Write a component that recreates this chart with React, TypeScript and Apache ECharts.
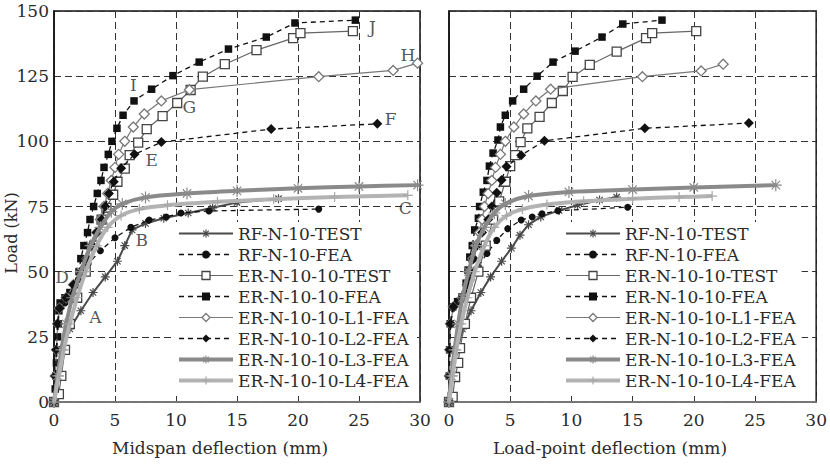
import React, { useEffect, useRef } from 'react';
import * as echarts from 'echarts';

// ---- tick values ----
const xTicks = [0, 5, 10, 15, 20, 25, 30];
const yTicks = [0, 25, 50, 75, 100, 125, 150];

const seriesNames = [
  'RF-N-10-TEST',
  'RF-N-10-FEA',
  'ER-N-10-10-TEST',
  'ER-N-10-10-FEA',
  'ER-N-10-10-L1-FEA',
  'ER-N-10-10-L2-FEA',
  'ER-N-10-10-L3-FEA',
  'ER-N-10-10-L4-FEA',
];

// ---- Midspan deflection (mm) vs load (kN) ----
const rfTestMid = [[0,0],[0.3,10],[0.7,20],[1.3,28],[2.2,35],[3.2,42],[4.2,48],[5.2,54],[5.8,60],[6.4,66],[7.5,68.5],[9,70.5],[11,72.5],[13,74.5],[15,76.5],[18.4,78]];
const rfFeaMid = [[0,0],[0.1,10],[0.2,20],[0.3,30],[0.4,36],[0.9,38],[1.4,42],[2.0,47],[2.8,53],[3.8,58],[5.0,63],[6.3,67],[7.8,69.8],[9.2,71],[10.4,72.5],[12.7,73.3],[21.7,74]];
const erTestMid = [[0,0],[0.4,3],[0.6,10],[0.9,20],[1.3,30],[1.9,40],[2.6,50],[3.3,60],[3.9,70],[4.3,74.5],[4.85,79.5],[5.2,84.5],[5.8,89.5],[6.2,94.7],[6.9,99.5],[7.6,104.7],[8.9,109.7],[10.1,114.7],[11.2,119.7],[12.2,124.8],[14,129.6],[16.6,135],[19.6,139.6],[20.2,141.5],[24.5,142.3]];
const erFeaMid = [[0,0],[0.1,5],[0.15,10],[0.2,15],[0.25,20],[0.3,25],[0.35,30],[0.4,35],[0.5,38],[0.9,40],[1.3,42],[1.7,45],[2.05,50],[2.2,55],[2.45,60],[2.75,65],[2.95,70],[3.25,75],[3.55,80],[3.85,85],[4.1,90],[4.45,95],[4.75,100],[5.16,105],[5.66,110],[6.56,115.5],[8.0,120],[9.75,125.2],[11.9,130.4],[14.3,135.4],[17.4,140],[19.75,145.4],[24.7,146.5]];
const l1FeaMid = [[0,0],[0.1,10],[0.2,20],[0.3,30],[0.45,36],[1.0,40],[1.6,45],[2.2,50],[2.7,55],[3.1,60],[3.5,65],[3.8,70],[4.1,75],[4.4,80],[4.7,85],[5.0,90],[5.3,95],[5.8,100],[6.5,105.5],[7.4,110.5],[8.8,115.5],[11.1,119.8],[21.7,124.8],[27.8,127.2],[29.8,130]];
const l2FeaMid = [[0,0],[0.1,10],[0.2,20],[0.3,30],[0.45,36],[1.0,40],[1.6,45],[2.2,50],[2.7,55],[3.1,60],[3.5,65],[3.9,70],[4.2,75],[4.5,80],[4.9,84.5],[5.5,89.7],[6.6,95],[8.8,99.7],[17.8,104.7],[26.5,106.7]];
const l3FeaMid = [[0,0],[0.3,10],[0.6,20],[1.0,30],[1.5,40],[2.2,50],[3.0,60],[3.8,67],[4.7,73],[5.6,76],[7.5,78.5],[10.9,80],[15,81],[20,82],[25,82.7],[29.8,83.2]];
const l4FeaMid = [[0,0],[0.4,10],[0.8,20],[1.3,30],[1.9,40],[2.6,50],[3.5,60],[4.4,67],[5.5,71.5],[7,74],[9.3,75.5],[13.4,76.8],[18,77.8],[23,78.6],[29,79.3]];

// ---- Load-point deflection (mm) vs load (kN) ----
const rfTestLp = [[0,0],[0.3,10],[0.7,20],[1.1,28],[1.8,35],[2.6,42],[3.4,48],[4.3,54],[5.1,59],[5.8,64],[6.5,68],[7.5,71],[9,73.5],[10.5,75.5],[12.3,77.5],[13.7,78.6]];
const rfFeaLp = [[0,0],[0.03,10],[0.06,20],[0.12,30],[0.35,36],[0.9,38.5],[1.3,42],[1.8,47],[2.4,52],[3.1,57],[3.9,62],[4.8,66.5],[5.9,69.8],[6.8,71],[7.6,72.2],[8.9,73.4],[14.6,74.7]];
const erTestLp = [[0,0],[0.3,2],[0.5,9.6],[0.75,15],[0.9,20.7],[1.3,30],[1.8,40],[2.4,50],[3.0,60],[3.6,70],[4.1,77],[4.6,84.5],[5.0,90.5],[5.4,94.7],[5.85,99.7],[6.4,105],[7.4,109.4],[8.4,114.7],[9.3,119.3],[10.1,124.7],[11.5,129.3],[13.7,134.4],[16.1,139.6],[16.6,141.5],[20.2,142.3]];
const erFeaLp = [[0,0],[0.02,10],[0.05,20],[0.1,30],[0.3,36.5],[0.7,38.5],[1.05,40.3],[1.4,45.6],[1.55,50.6],[1.7,55.6],[1.9,60],[2.1,66],[2.4,70.5],[2.5,75],[2.8,80.5],[3.1,85],[3.3,90.5],[3.6,95.5],[4.0,100.5],[4.2,105.5],[4.6,110],[5.2,115.5],[6.1,120],[7.2,125],[8.5,130.4],[10.3,134.6],[12.5,140],[14.2,145],[17.4,146.5]];
const l1FeaLp = [[0,0],[0.03,10],[0.06,20],[0.12,30],[0.35,36.5],[1.1,40],[1.5,45],[1.7,50],[1.95,55],[2.2,60],[2.5,65],[2.7,70],[2.9,75],[3.2,80],[3.5,85],[3.8,90],[4.2,95],[4.6,100],[5.3,105.5],[6.1,110.5],[7.1,115.5],[8.3,120],[15.8,124.8],[20.6,127],[22.4,129.6]];
const l2FeaLp = [[0,0],[0.03,10],[0.06,20],[0.12,30],[0.35,36.5],[1.1,40],[1.5,45],[1.75,50],[2.0,55],[2.3,60],[2.7,65],[3.2,70],[3.5,75],[3.9,80.3],[4.3,85.2],[4.7,90.3],[5.9,94.7],[7.8,100.2],[16,105],[24.5,107]];
const l3FeaLp = [[0,0],[0.2,10],[0.45,20],[0.75,30],[1.1,40],[1.6,50],[2.2,60],[2.9,67],[3.7,72.5],[4.6,76],[6.5,79],[9.8,80.6],[15,81.5],[20,82.3],[26.7,83.2]];
const l4FeaLp = [[0,0],[0.3,10],[0.6,20],[1.0,30],[1.5,40],[2.1,50],[2.9,60],[3.7,67],[4.7,71.5],[6,74],[8,75.8],[11,77],[15,78],[18.8,78.6],[21.5,79]];

// ---- point annotations on the midspan plot ----
const annotationNames = ['J', 'H', 'I', 'G', 'F', 'E', 'C', 'B', 'D', 'A'];
const annotationX = [26.1, 29.0, 6.5, 11.1, 27.6, 8.0, 28.8, 7.2, 0.66, 3.4];
const annotationY = [143.8, 133.1, 121.6, 113.2, 108.6, 92.8, 74.4, 62.1, 47.9, 32.6];

const midData = [rfTestMid, rfFeaMid, erTestMid, erFeaMid, l1FeaMid, l2FeaMid, l3FeaMid, l4FeaMid];
const lpData = [rfTestLp, rfFeaLp, erTestLp, erFeaLp, l1FeaLp, l2FeaLp, l3FeaLp, l4FeaLp];

const FONT = '"DejaVu Serif", serif';
const ASTER = 'path://M0,5L10,5M5,0L5,10M1.5,1.5L8.5,8.5M8.5,1.5L1.5,8.5';
const PLUS = 'path://M0,5L10,5M5,0L5,10';

const styles: any[] = [
  { line: { color: '#4a4a4a', width: 2, type: 'solid' }, symbol: ASTER, size: 9, item: { color: '#4a4a4a', borderColor: '#4a4a4a', borderWidth: 1.2 } },
  { line: { color: '#111', width: 1.3, type: [5, 4] }, symbol: 'circle', size: 7, item: { color: '#111', borderColor: '#111', borderWidth: 0 } },
  { line: { color: '#666', width: 1.2, type: 'solid' }, symbol: 'rect', size: 9, item: { color: '#fff', borderColor: '#444', borderWidth: 1.3 } },
  { line: { color: '#111', width: 1.3, type: [5, 4] }, symbol: 'rect', size: 7.5, item: { color: '#111', borderColor: '#111', borderWidth: 0 } },
  { line: { color: '#777', width: 1.2, type: 'solid' }, symbol: 'diamond', size: 10, item: { color: '#fff', borderColor: '#777', borderWidth: 1.3 } },
  { line: { color: '#111', width: 1.3, type: [5, 4] }, symbol: 'diamond', size: 10, item: { color: '#111', borderColor: '#111', borderWidth: 0 } },
  { line: { color: '#8a8a8a', width: 4, type: 'solid' }, symbol: ASTER, size: 12, item: { color: '#8a8a8a', borderColor: '#8a8a8a', borderWidth: 1.2 } },
  { line: { color: '#b3b3b3', width: 4, type: 'solid' }, symbol: PLUS, size: 10, item: { color: '#a8a8a8', borderColor: '#a8a8a8', borderWidth: 1.2 } },
];

function buildSeries(data: number[][][], axis: number) {
  return data.map((d, i) => ({
    name: seriesNames[i],
    type: 'line',
    xAxisIndex: axis,
    yAxisIndex: axis,
    data: d,
    symbol: styles[i].symbol,
    symbolSize: styles[i].size,
    showAllSymbol: true,
    clip: false,
    lineStyle: styles[i].line,
    itemStyle: styles[i].item,
    smooth: i >= 6 ? 0.3 : false,
    z: 2 + i,
  }));
}

function legendData() {
  return seriesNames.map((n, i) => ({
    name: n,
    lineStyle: { width: styles[i].line.width, type: styles[i].line.type, color: styles[i].line.color },
    itemStyle: { ...styles[i].item },
  }));
}

function legendOpt(left: number) {
  return {
    data: legendData(),
    orient: 'vertical',
    left,
    top: 222,
    itemWidth: 54,
    itemHeight: 10,
    itemGap: 4,
    padding: [3, 6, 3, 4],
    backgroundColor: '#fff',
    selectedMode: false,
    textStyle: { fontFamily: FONT, fontSize: 17, color: '#2a2a2a', lineHeight: 16 },
  };
}

function axisPair(idx: number) {
  const x = {
    type: 'value',
    gridIndex: idx,
    min: xTicks[0],
    max: xTicks[xTicks.length - 1],
    interval: xTicks[1] - xTicks[0],
    axisLine: { show: true, onZero: false, lineStyle: { color: '#888', width: 1.5 } },
    axisTick: { show: false },
    axisLabel: { fontFamily: FONT, fontSize: 17, color: '#2a2a2a', margin: 9 },
    splitLine: { show: true, lineStyle: { color: '#333', width: 1, type: [7, 4] } },
  };
  const y = {
    type: 'value',
    gridIndex: idx,
    min: yTicks[0],
    max: yTicks[yTicks.length - 1],
    interval: yTicks[1] - yTicks[0],
    axisLine: { show: true, onZero: false, lineStyle: { color: '#111', width: 1.5 } },
    axisTick: { show: false },
    axisLabel: { show: idx === 0, fontFamily: FONT, fontSize: 17, color: '#2a2a2a', margin: 5 },
    splitLine: { show: true, lineStyle: { color: '#333', width: 1, type: [7, 4] } },
  };
  return { x, y };
}

export default function App() {
  const ref = useRef<HTMLDivElement>(null);
  useEffect(() => {
    if (!ref.current) return;
    const chart = echarts.init(ref.current, undefined, { renderer: 'svg' });
    const a0 = axisPair(0);
    const a1 = axisPair(1);
    const option: any = {
      animation: false,
      backgroundColor: '#fff',
      grid: [
        { left: 54, top: 11, width: 366, height: 391, show: true, borderColor: '#111', borderWidth: 1.5, backgroundColor: 'transparent' },
        { left: 449, top: 11, width: 369, height: 391, show: true, borderColor: '#111', borderWidth: 1.5, backgroundColor: 'transparent' },
      ],
      xAxis: [a0.x, a1.x],
      yAxis: [a0.y, a1.y],
      legend: [legendOpt(173), legendOpt(560)],
      series: [
        ...buildSeries(midData, 0),
        ...buildSeries(lpData, 1),
        {
          name: 'annotations',
          type: 'scatter',
          xAxisIndex: 0,
          yAxisIndex: 0,
          symbolSize: 1,
          itemStyle: { color: 'rgba(0,0,0,0)' },
          silent: true,
          z: 20,
          label: { show: true, position: 'inside', formatter: '{b}', fontFamily: FONT, fontSize: 17, color: '#2a2a2a' },
          data: annotationNames.map((n, i) => ({ name: n, value: [annotationX[i], annotationY[i]] })),
        },
      ],
      graphic: [
        { type: 'text', x: 220, y: 448, style: { text: 'Midspan deflection (mm)', font: '17px "DejaVu Serif", serif', fill: '#2a2a2a', align: 'center', verticalAlign: 'middle' } },
        { type: 'text', x: 610, y: 448, style: { text: 'Load-point deflection (mm)', font: '17px "DejaVu Serif", serif', fill: '#2a2a2a', align: 'center', verticalAlign: 'middle' } },
        { type: 'text', x: 11, y: 233, rotation: Math.PI / 2, style: { text: 'Load (kN)', font: '16px "DejaVu Serif", serif', fill: '#2a2a2a', align: 'center', verticalAlign: 'middle' } },
      ],
    };
    chart.setOption(option);
    return () => chart.dispose();
  }, []);
  return <div ref={ref} style={{ position: 'fixed', left: 0, top: 0, width: 830, height: 475, background: '#fff' }} />;
}
